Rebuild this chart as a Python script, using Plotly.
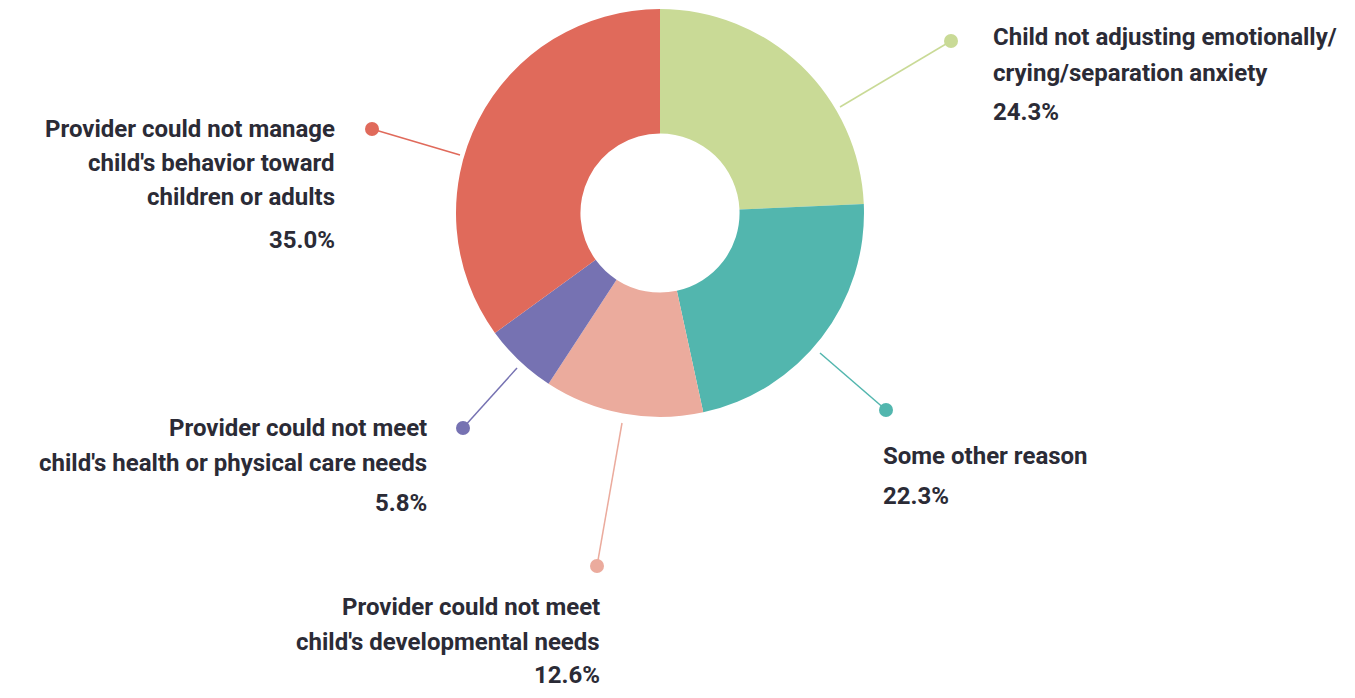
import plotly.graph_objects as go

# ---- data ----
categories = [
    "Child not adjusting emotionally/<br>crying/separation anxiety",
    "Some other reason",
    "Provider could not meet<br>child's developmental needs",
    "Provider could not meet<br>child's health or physical care needs",
    "Provider could not manage<br>child's behavior toward<br>children or adults",
]
values = [24.3, 22.3, 12.6, 5.8, 35.0]
colors = ["#C9DA96", "#52B6AE", "#EBAB9D", "#7672B2", "#E06A5B"]

# page is drawn with an 8px body margin, so the figure is sized to fit inside it
OFF = 8
W, H = 1355 - 2 * OFF, 698 - 2 * OFF
CX, CY, R = 660, 213, 204  # page pixels

def px(x, y):
    return (x - OFF) / W, 1 - (y - OFF) / H

dx0, dy1 = px(CX - R, CY - R)
dx1, dy0 = px(CX + R, CY + R)
dy1 = min(dy1, 1.0)

fig = go.Figure(go.Pie(
    labels=[c.replace("<br>", " ") for c in categories],
    values=values,
    marker=dict(colors=colors, line=dict(width=0)),
    hole=0.39,
    sort=False,
    direction="clockwise",
    rotation=0,
    textinfo="none",
    hoverinfo="label+percent",
    domain=dict(x=[dx0, dx1], y=[dy0, dy1]),
    showlegend=False,
))

# label layout: (edge point, dot point, text anchor x, align, line ys, pct y)
layout_spec = [
    ((840, 107), (951, 41), 991, "left", [37, 73], 112),
    ((820, 353), (886, 410), 881, "left", [456], 496),
    ((622, 423), (597, 566), 602, "right", [607, 642], 675),
    ((517, 368), (463, 428), 429, "right", [428, 463], 503),
    ((460, 155), (372, 129), 337, "right", [129, 163, 197], 240),
]

FONT = dict(family="Roboto", size=24, color="#2B2B36")
shapes = []
annotations = []
for cat, val, col, spec in zip(categories, values, colors, layout_spec):
    (ex, ey), (ddx, ddy), tx, align, ys, py = spec
    x0, y0 = px(ex, ey)
    x1, y1 = px(ddx, ddy)
    shapes.append(dict(type="line", xref="paper", yref="paper", x0=x0, y0=y0, x1=x1, y1=y1,
                       line=dict(color=col, width=1.5)))
    rx, ry = 7 / W, 7 / H
    shapes.append(dict(type="circle", xref="paper", yref="paper",
                       x0=x1 - rx, x1=x1 + rx, y0=y1 - ry, y1=y1 + ry,
                       fillcolor=col, line=dict(width=0)))
    lines = cat.split("<br>")
    xanchor = "left" if align == "left" else "right"
    for line, ly in zip(lines, ys):
        ax, ay = px(tx, ly)
        annotations.append(dict(x=ax, y=ay, xref="paper", yref="paper", text="<b>" + line + "</b>",
                                showarrow=False, xanchor=xanchor, yanchor="middle", font=FONT))
    ax, ay = px(tx, py)
    annotations.append(dict(x=ax, y=ay, xref="paper", yref="paper", text=f"<b>{val:.1f}%</b>",
                            showarrow=False, xanchor=xanchor, yanchor="middle", font=FONT))

fig.update_layout(
    width=W, height=H,
    margin=dict(l=0, r=0, t=0, b=0),
    paper_bgcolor="white", plot_bgcolor="white",
    shapes=shapes, annotations=annotations,
)
fig.write_html("out.html")
